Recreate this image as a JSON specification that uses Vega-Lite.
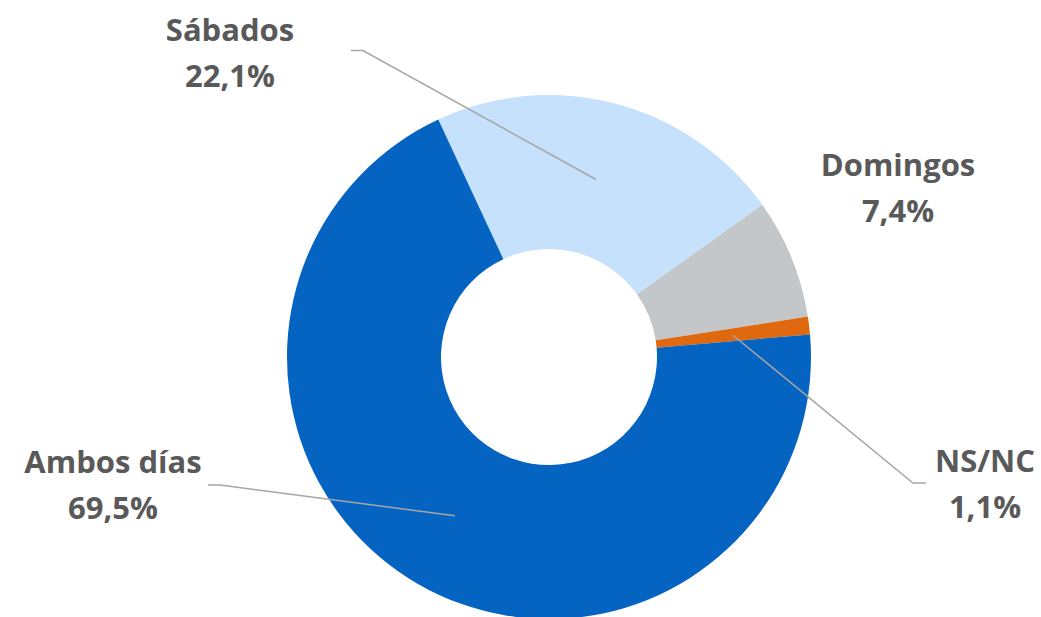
{
  "$schema": "https://vega.github.io/schema/vega-lite/v6.json",
  "width": 1041,
  "height": 617,
  "autosize": {"type": "fit", "contains": "padding"},
  "padding": 0,
  "background": "white",
  "config": {"view": {"stroke": null}},
  "datasets": {
    "slices": [
      {"cat": "Sábados", "pct": 22.1, "ord": 1},
      {"cat": "Domingos", "pct": 7.4, "ord": 2},
      {"cat": "NS/NC", "pct": 1.1, "ord": 3},
      {"cat": "Ambos días", "pct": 69.5, "ord": 4}
    ],
    "leaders": [
      {"cat": "Sábados", "seq": 1, "x": -0.7557, "y": 1.1794},
      {"cat": "Sábados", "seq": 2, "x": -0.7099, "y": 1.1794},
      {"cat": "Sábados", "seq": 3, "x": 0.1794, "y": 0.6832},
      {"cat": "NS/NC", "seq": 1, "x": 0.7023, "y": 0.084},
      {"cat": "NS/NC", "seq": 2, "x": 1.3893, "y": -0.4847},
      {"cat": "NS/NC", "seq": 3, "x": 1.4389, "y": -0.4847},
      {"cat": "Ambos días", "seq": 1, "x": -1.3015, "y": -0.4924},
      {"cat": "Ambos días", "seq": 2, "x": -1.2557, "y": -0.4924},
      {"cat": "Ambos días", "seq": 3, "x": -0.3588, "y": -0.6107}
    ],
    "labels": [
      {"label": "Sábados\n22,1%", "x": -1.2176, "y": 1.2519},
      {"label": "Domingos\n7,4%", "x": 1.3321, "y": 0.7328},
      {"label": "NS/NC\n1,1%", "x": 1.6641, "y": -0.4084},
      {"label": "Ambos días\n69,5%", "x": -1.6641, "y": -0.4122}
    ]
  },
  "layer": [
    {
      "data": {"name": "slices"},
      "mark": {"type": "arc", "outerRadius": 262, "innerRadius": 108},
      "encoding": {
        "theta": {"field": "pct", "type": "quantitative", "stack": true, "scale": {"range": [-0.4363, 5.8469]}},
        "order": {"field": "ord", "type": "quantitative"},
        "color": {"field": "cat", "type": "nominal", "legend": null,
          "scale": {"domain": ["Sábados", "Domingos", "NS/NC", "Ambos días"], "range": ["#C5E1FB", "#C4C7CA", "#E0690F", "#0563C1"]}},
        "x": {"datum": 0, "type": "quantitative", "scale": {"domain": [-2.0954, 1.8779], "nice": false, "zero": false}, "axis": null},
        "y": {"datum": 0, "type": "quantitative", "scale": {"domain": [-0.981, 1.374], "nice": false, "zero": false}, "axis": null}
      }
    },
    {
      "data": {"name": "leaders"},
      "mark": {"type": "line", "color": "#A6A6A6", "strokeWidth": 1.5},
      "encoding": {
        "x": {"field": "x", "type": "quantitative", "scale": {"domain": [-2.0954, 1.8779], "nice": false, "zero": false}, "axis": null},
        "y": {"field": "y", "type": "quantitative", "scale": {"domain": [-0.981, 1.374], "nice": false, "zero": false}, "axis": null},
        "detail": {"field": "cat", "type": "nominal"},
        "order": {"field": "seq", "type": "quantitative"}
      }
    },
    {
      "data": {"name": "labels"},
      "mark": {"type": "text", "font": "Open Sans", "fontWeight": "bold", "fontSize": 31, "color": "#595959", "lineBreak": "\n", "lineHeight": 46, "align": "center", "baseline": "middle"},
      "encoding": {
        "x": {"field": "x", "type": "quantitative", "scale": {"domain": [-2.0954, 1.8779], "nice": false, "zero": false}, "axis": null},
        "y": {"field": "y", "type": "quantitative", "scale": {"domain": [-0.981, 1.374], "nice": false, "zero": false}, "axis": null},
        "text": {"field": "label", "type": "nominal"}
      }
    }
  ]
}
